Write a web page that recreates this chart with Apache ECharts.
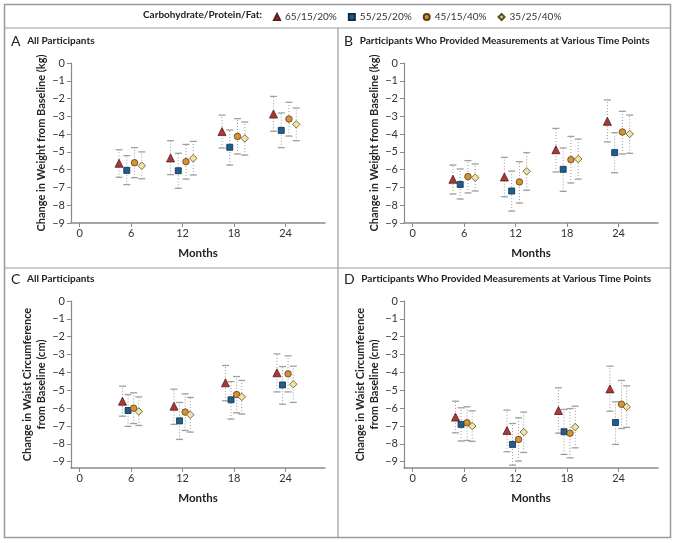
<!DOCTYPE html>
<html><head><meta charset="utf-8">
<script src="https://cdn.jsdelivr.net/npm/echarts@6/dist/echarts.min.js"></script>
<style>html,body{margin:0;padding:0;background:#fff}#c{width:675px;height:543px}</style>
</head><body><div id="c"></div>
<script>
const months = [6, 12, 18, 24];
const diets = ['65/15/20%', '55/25/20%', '45/15/40%', '35/25/40%'];
const xTicks = [0, 6, 12, 18, 24];
const yTicks = [0, -1, -2, -3, -4, -5, -6, -7, -8, -9];

// rows = diets (65/15/20, 55/25/20, 45/15/40, 35/25/40), columns = months
const aMean = [[-5.64,-5.34,-3.86,-2.87],[-6.04,-6.06,-4.74,-3.79],[-5.61,-5.55,-4.13,-3.15],[-5.78,-5.36,-4.24,-3.45]];
const aLow  = [[-6.43,-6.28,-4.78,-3.84],[-6.84,-7.05,-5.74,-4.76],[-6.45,-6.53,-5.12,-4.11],[-6.51,-6.30,-5.18,-4.37]];
const aHigh = [[-4.88,-4.37,-2.93,-1.88],[-5.21,-5.08,-3.77,-2.81],[-4.76,-4.58,-3.13,-2.21],[-5.00,-4.41,-3.32,-2.53]];

const bMean = [[-6.54,-6.41,-4.88,-3.28],[-6.83,-7.20,-5.98,-5.04],[-6.39,-6.69,-5.44,-3.88],[-6.45,-6.09,-5.40,-3.99]];
const bLow  = [[-7.37,-7.52,-6.13,-4.44],[-7.65,-8.33,-7.22,-6.17],[-7.31,-7.88,-6.75,-5.12],[-7.20,-7.16,-6.53,-5.08]];
const bHigh = [[-5.74,-5.31,-3.68,-2.08],[-5.96,-6.08,-4.78,-3.92],[-5.49,-5.55,-4.13,-2.72],[-5.68,-5.04,-4.28,-2.93]];

const cMean = [[-5.61,-5.89,-4.58,-4.02],[-6.13,-6.71,-5.53,-4.70],[-6.00,-6.22,-5.24,-4.08],[-6.19,-6.37,-5.37,-4.66]];
const cLow  = [[-6.45,-6.91,-5.59,-5.09],[-7.02,-7.75,-6.61,-5.78],[-6.86,-7.25,-6.26,-5.09],[-6.97,-7.34,-6.33,-5.68]];
const cHigh = [[-4.77,-4.94,-3.61,-2.96],[-5.24,-5.68,-4.51,-3.67],[-5.14,-5.20,-4.23,-3.07],[-5.37,-5.40,-4.45,-3.65]];

const dMean = [[-6.50,-7.25,-6.13,-4.92],[-6.91,-8.03,-7.32,-6.80],[-6.82,-7.75,-7.40,-5.78],[-7.00,-7.34,-7.06,-5.93]];
const dLow  = [[-7.38,-8.44,-7.40,-6.17],[-7.84,-9.19,-8.59,-8.03],[-7.81,-8.96,-8.78,-7.14],[-7.86,-8.48,-8.22,-7.08]];
const dHigh = [[-5.61,-6.11,-4.86,-3.65],[-5.98,-6.86,-6.07,-5.65],[-5.92,-6.54,-6.02,-4.45],[-6.15,-6.22,-5.89,-4.75]];

const F = 'Lato, "Noto Sans", sans-serif';
const symbols = ['triangle', 'rect', 'circle', 'diamond'];
const symSizes = [8, 6, 6.5, 7.5];
const fills = ['#a63a3a', '#1f5f8e', '#d6913a', '#efe3a6'];
const borders = ['#5a1c1c', '#0e2c47', '#5e3c14', '#5e5020'];

const panels = [
  {mean: aMean, low: aLow, high: aHigh, grid: {left: 71, top: 63, width: 254, height: 160}, ymin: -9, off: [-1.4, -0.5, 0.4, 1.25], gap: 22, title: 'Change in Weight from Baseline (kg)'},
  {mean: bMean, low: bLow, high: bHigh, grid: {left: 404, top: 63, width: 254, height: 160}, ymin: -9, off: [-1.3, -0.45, 0.45, 1.3], gap: 22, title: 'Change in Weight from Baseline (kg)'},
  {mean: cMean, low: cLow, high: cHigh, grid: {left: 71, top: 301, width: 254, height: 167}, ymin: -9.35, off: [-1.0, -0.35, 0.3, 0.9], gap: 18, title: 'Change in Waist Circumference\nfrom Baseline (cm)'},
  {mean: dMean, low: dLow, high: dHigh, grid: {left: 404, top: 301, width: 254, height: 167}, ymin: -9.35, off: [-1.0, -0.35, 0.35, 0.95], gap: 18, title: 'Change in Waist Circumference\nfrom Baseline (cm)'}
];

const axisGray = '#8a8a8a';
const grids = [], xAxes = [], yAxes = [], series = [];
panels.forEach((p, pi) => {
  grids.push(Object.assign({containLabel: false}, p.grid));
  xAxes.push({
    type: 'value', gridIndex: pi, min: -1, max: 28.6,
    axisLine: {show: true, onZero: false, lineStyle: {color: axisGray, width: 1.5}},
    axisTick: {show: true, length: 4, customValues: xTicks, lineStyle: {color: axisGray, width: 1}},
    axisLabel: {customValues: xTicks, fontSize: 11, color: '#333', margin: 5, fontFamily: F},
    splitLine: {show: false},
    name: 'Months', nameLocation: 'middle', nameGap: 24,
    nameTextStyle: {fontWeight: 'bold', fontSize: 11.5, color: '#222', fontFamily: F}
  });
  yAxes.push({
    type: 'value', gridIndex: pi, min: p.ymin, max: 0,
    axisLine: {show: true, onZero: false, lineStyle: {color: axisGray, width: 1.2}},
    axisTick: {show: true, length: 4, customValues: yTicks, lineStyle: {color: axisGray, width: 1}},
    axisLabel: {customValues: yTicks, fontSize: 11, color: '#333', margin: 6, fontFamily: F,
      formatter: v => v < 0 ? '\u2212' + (-v) : String(v)},
    splitLine: {show: false},
    name: p.title, nameLocation: 'middle', nameGap: p.gap, nameRotate: 90,
    nameTextStyle: {fontWeight: 'bold', fontSize: 11, color: '#222', fontFamily: F, lineHeight: 14}
  });
  diets.forEach((name, di) => {
    const ebData = months.map((m, mi) => [m + p.off[di], p.low[di][mi], p.high[di][mi]]);
    series.push({
      type: 'custom', name: 'eb' + pi + '_' + di, xAxisIndex: pi, yAxisIndex: pi, z: 2,
      data: ebData, encode: {x: 0, y: [1, 2]}, silent: true,
      renderItem: (params, api) => {
        const x = api.value(0), lo = api.value(1), hi = api.value(2);
        const a = api.coord([x, lo]), b = api.coord([x, hi]);
        const cw = 3.5;
        return {type: 'group', children: [
          {type: 'line', shape: {x1: a[0], y1: a[1], x2: b[0], y2: b[1]}, style: {stroke: '#9a9a9a', lineWidth: 1, lineDash: [1, 2]}},
          {type: 'line', shape: {x1: a[0] - cw, y1: a[1], x2: a[0] + cw, y2: a[1]}, style: {stroke: '#a0a0a0', lineWidth: 1.3}},
          {type: 'line', shape: {x1: b[0] - cw, y1: b[1], x2: b[0] + cw, y2: b[1]}, style: {stroke: '#a0a0a0', lineWidth: 1.3}}
        ]};
      }
    });
    series.push({
      type: 'scatter', name: name, xAxisIndex: pi, yAxisIndex: pi, z: 5,
      symbol: symbols[di], symbolSize: symSizes[di],
      itemStyle: {color: fills[di], borderColor: borders[di], borderWidth: 0.8, opacity: 1},
      data: months.map((m, mi) => [m + p.off[di], p.mean[di][mi]])
    });
  });
});

const gray = '#9b9b9b';
const header = (x, y, letter, text) => ({
  type: 'text', left: x, top: y,
  style: {text: '{l|' + letter + '}  {t|' + text + '}', rich: {
    l: {fontSize: 14, fontFamily: F, fill: '#222', verticalAlign: 'middle'},
    t: {fontSize: 10, fontWeight: 'bold', fontFamily: F, fill: '#222', verticalAlign: 'middle'}
  }}
});

const option = {
  animation: false,
  backgroundColor: '#fff',
  grid: grids, xAxis: xAxes, yAxis: yAxes, series: series,
  legend: {
    data: diets.map((n, i) => ({name: n, icon: symbols[i]})),
    left: 273, top: 12, itemWidth: 6, itemHeight: 6, itemGap: 11, padding: 0,
    selectedMode: false,
    textStyle: {fontSize: 10, color: '#333', fontFamily: F}
  },
  graphic: [
    {type: 'rect', shape: {x: 4.5, y: 4.5, width: 666, height: 533}, style: {fill: 'none', stroke: gray, lineWidth: 1.5}, silent: true},
    {type: 'line', shape: {x1: 4.5, y1: 28, x2: 670.5, y2: 28}, style: {stroke: gray, lineWidth: 1.2}},
    {type: 'line', shape: {x1: 338, y1: 28, x2: 338, y2: 537}, style: {stroke: gray, lineWidth: 1.2}},
    {type: 'line', shape: {x1: 4.5, y1: 268, x2: 670.5, y2: 268}, style: {stroke: gray, lineWidth: 1.2}},
    {type: 'text', left: 143, top: 10, style: {text: 'Carbohydrate/Protein/Fat:', fontSize: 10, fontWeight: 'bold', fontFamily: F, fill: '#222'}},
    header(11, 34, 'A', 'All Participants'),
    header(344, 34, 'B', 'Participants Who Provided Measurements at Various Time Points'),
    header(11, 272, 'C', 'All Participants'),
    header(344, 272, 'D', 'Participants Who Provided Measurements at Various Time Points')
  ]
};
const chart = echarts.init(document.getElementById('c'), null, {renderer: 'canvas'});
chart.setOption(option);
</script>
</body></html>
